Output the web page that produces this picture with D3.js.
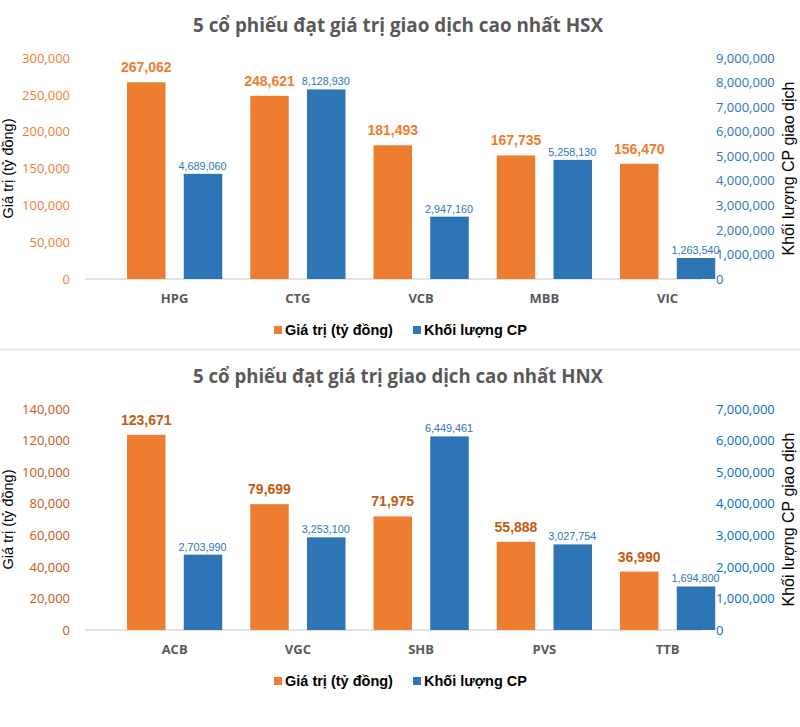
<!DOCTYPE html>
<html>
<head>
<meta charset="utf-8">
<script src="https://cdn.jsdelivr.net/npm/d3@7"></script>
<style>
  html, body { margin: 0; padding: 0; background: #ffffff; }
  svg { display: block; }
</style>
</head>
<body>
<svg id="chart" width="800" height="727"></svg>
<script>
// ---------------- DATA ----------------
const seriesNames = ["Giá trị (tỷ đồng)", "Khối lượng CP"];

const titleHSX = "5 cổ phiếu đạt giá trị giao dịch cao nhất HSX";
const categoriesHSX = ["HPG", "CTG", "VCB", "MBB", "VIC"];
const valueHSX = [267062, 248621, 181493, 167735, 156470];
const volumeHSX = [4689060, 8128930, 2947160, 5258130, 1263540];
const leftTicksHSX = [0, 50000, 100000, 150000, 200000, 250000, 300000];
const rightTicksHSX = [0, 1000000, 2000000, 3000000, 4000000, 5000000, 6000000, 7000000, 8000000, 9000000];

const titleHNX = "5 cổ phiếu đạt giá trị giao dịch cao nhất HNX";
const categoriesHNX = ["ACB", "VGC", "SHB", "PVS", "TTB"];
const valueHNX = [123671, 79699, 71975, 55888, 36990];
const volumeHNX = [2703990, 3253100, 6449461, 3027754, 1694800];
const leftTicksHNX = [0, 20000, 40000, 60000, 80000, 100000, 120000, 140000];
const rightTicksHNX = [0, 1000000, 2000000, 3000000, 4000000, 5000000, 6000000, 7000000];

const leftTitle = "Giá trị (tỷ đồng)";
const rightTitle = "Khối lượng CP giao dịch";

// ---------------- DRAW ----------------
const svg = d3.select("#chart");
const fmt = d3.format(",");
const ORANGE = "#ED7D31", BLUE = "#2E75B6";
// in the reference, the secondary-axis bars sit slightly lower than the
// secondary tick labels (plot offset of the secondary series), in px
const volumeBarShift = 10;

function drawChart(cfg, yOff) {
  const g = svg.append("g").attr("transform", `translate(0,${yOff})`);
  const top = 58, base = 279;

  const yL = d3.scaleLinear().domain([0, d3.max(cfg.leftTicks)]).range([base, top]);
  const yR = d3.scaleLinear().domain([0, d3.max(cfg.rightTicks)]).range([base, top]);
  const yRbar = d3.scaleLinear().domain(yR.domain()).range([base + volumeBarShift, top + volumeBarShift]);
  const x0 = d3.scaleBand().domain(cfg.categories).range([113, 729.25]);
  const x1 = d3.scaleBand().domain([0, 1]).range([0, x0.bandwidth()])
      .paddingInner(0.3216).paddingOuter(0.2467);

  // title
  g.append("text")
    .attr("x", 398).attr("y", 32)
    .attr("text-anchor", "middle")
    .attr("font-family", "'Open Sans', sans-serif")
    .attr("font-weight", "bold")
    .attr("font-size", 20)
    .attr("fill", "#595959")
    .attr("textLength", 410)
    .attr("lengthAdjust", "spacingAndGlyphs")
    .text(cfg.title);

  // baseline
  g.append("line")
    .attr("x1", 85).attr("x2", 702)
    .attr("y1", yL(0)).attr("y2", yL(0))
    .attr("stroke", "#d9d9d9").attr("stroke-width", 1.5);

  // left axis
  const la = g.append("g").attr("transform", "translate(76,0)")
    .call(d3.axisLeft(yL).tickValues(cfg.leftTicks).tickFormat(fmt).tickSize(0).tickPadding(6));
  la.select(".domain").remove();
  la.selectAll("text")
    .attr("font-family", "'Open Sans', sans-serif")
    .attr("font-size", 13)
    .attr("fill", cfg.leftColor);

  // right axis
  const ra = g.append("g").attr("transform", "translate(709,0)")
    .call(d3.axisRight(yR).tickValues(cfg.rightTicks).tickFormat(fmt).tickSize(0).tickPadding(7));
  ra.select(".domain").remove();
  ra.selectAll("text")
    .attr("font-family", "'Open Sans', sans-serif")
    .attr("font-size", 13)
    .attr("fill", cfg.rightColor);

  // category axis
  const ba = g.append("g").attr("transform", `translate(0,${base})`)
    .call(d3.axisBottom(x0).tickSize(0).tickPadding(15));
  ba.select(".domain").remove();
  ba.selectAll("text")
    .attr("font-family", "'Open Sans', sans-serif")
    .attr("font-weight", "bold")
    .attr("font-size", 13)
    .attr("fill", "#595959");

  const rows = cfg.categories.map((c, i) => ({ c, v: cfg.values[i], q: cfg.volumes[i] }));

  // bars - value (left axis)
  g.selectAll(".barV").data(rows).join("rect")
    .attr("x", d => x0(d.c) + x1(0))
    .attr("width", x1.bandwidth())
    .attr("y", d => yL(d.v))
    .attr("height", d => yL(0) - yL(d.v))
    .attr("fill", ORANGE);

  // bars - volume (right axis)
  g.selectAll(".barQ").data(rows).join("rect")
    .attr("x", d => x0(d.c) + x1(1))
    .attr("width", x1.bandwidth())
    .attr("y", d => yRbar(d.q))
    .attr("height", d => base - yRbar(d.q))
    .attr("fill", BLUE);

  // labels
  g.selectAll(".lblV").data(rows).join("text")
    .attr("x", d => x0(d.c) + x1(0) + x1.bandwidth() / 2)
    .attr("y", d => yL(d.v) - 10)
    .attr("text-anchor", "middle")
    .attr("font-family", "'Liberation Sans Narrow', 'Arial Narrow', sans-serif")
    .attr("font-stretch", "condensed")
    .attr("font-weight", "bold")
    .attr("font-size", 14)
    .attr("fill", cfg.valueLabelColor)
    .text(d => fmt(d.v));

  g.selectAll(".lblQ").data(rows).join("text")
    .attr("x", d => x0(d.c) + x1(1) + x1.bandwidth() / 2 - 0.5)
    .attr("y", d => yRbar(d.q) - 4)
    .attr("text-anchor", "middle")
    .attr("font-family", "'Liberation Sans Narrow', 'Arial Narrow', sans-serif")
    .attr("font-stretch", "condensed")
    .attr("font-size", 10.8)
    .attr("fill", cfg.volumeLabelColor)
    .text(d => fmt(d.q));

  // axis titles
  g.append("text")
    .attr("transform", `translate(13,${(top + base) / 2}) rotate(-90)`)
    .attr("text-anchor", "middle")
    .attr("font-family", "'Liberation Sans', Arial, sans-serif")
    .attr("font-size", 14.5)
    .attr("fill", "#000")
    .text(leftTitle);

  g.append("text")
    .attr("transform", `translate(794,${(top + base) / 2}) rotate(-90)`)
    .attr("text-anchor", "middle")
    .attr("font-family", "'Liberation Sans', Arial, sans-serif")
    .attr("font-size", 16)
    .attr("fill", "#000")
    .text(rightTitle);

  // legend
  const leg = g.append("g");
  const items = [{ name: seriesNames[0], color: ORANGE, x: 274 }, { name: seriesNames[1], color: BLUE, x: 413 }];
  items.forEach(it => {
    leg.append("rect").attr("x", it.x).attr("y", 326).attr("width", 8).attr("height", 8).attr("fill", it.color);
    leg.append("text")
      .attr("x", it.x + 11).attr("y", 335)
      .attr("font-family", "'Liberation Sans', Arial, sans-serif")
      .attr("font-weight", "bold")
      .attr("font-size", 14.5)
      .attr("fill", "#000")
      .text(it.name);
  });
}

drawChart({
  title: titleHSX, categories: categoriesHSX, values: valueHSX, volumes: volumeHSX,
  leftTicks: leftTicksHSX, rightTicks: rightTicksHSX,
  leftColor: "#ED7D31", rightColor: "#2E75B6",
  valueLabelColor: "#ED7D31", volumeLabelColor: "#2E75B6"
}, 0);

// separator between the two charts
svg.append("rect").attr("x", 0).attr("y", 348.5).attr("width", 800).attr("height", 2).attr("fill", "#e6e6e6");

drawChart({
  title: titleHNX, categories: categoriesHNX, values: valueHNX, volumes: volumeHNX,
  leftTicks: leftTicksHNX, rightTicks: rightTicksHNX,
  leftColor: "#C55A11", rightColor: "#0070C0",
  valueLabelColor: "#C55A11", volumeLabelColor: "#2E75B6"
}, 351);
</script>
</body>
</html>
